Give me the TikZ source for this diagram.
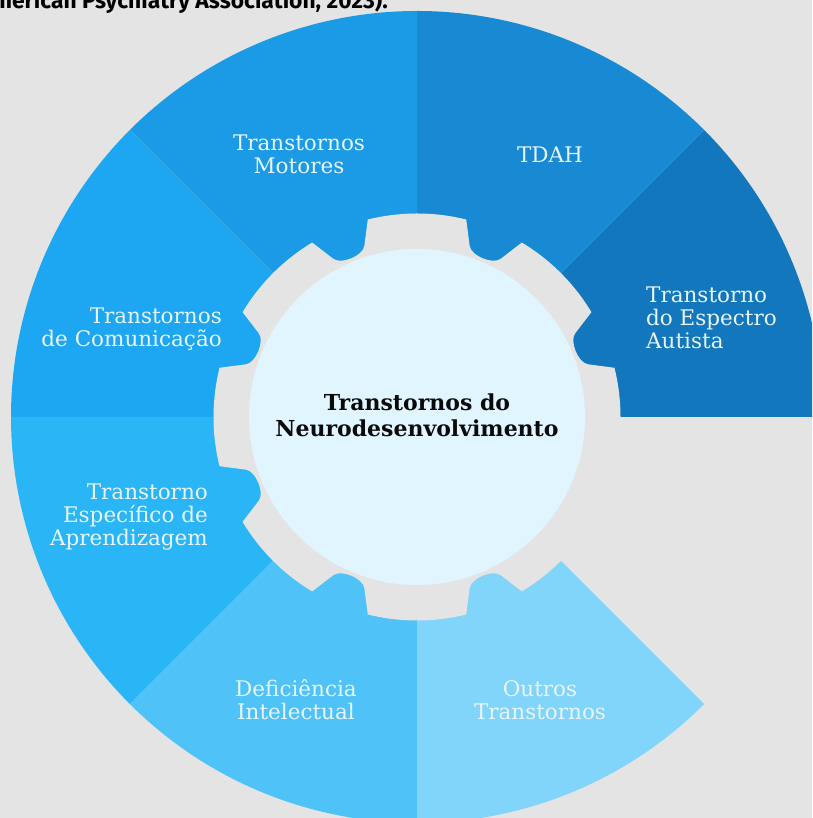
\documentclass[tikz,border=0pt]{standalone}
\usepackage{fontspec}
\setmainfont{DejaVu Serif}
\newfontfamily\topfont{Fira Sans}
\usetikzlibrary{calc}
\definecolor{bg}{HTML}{E4E4E4}
\definecolor{cTDAH}{HTML}{1889D3}
\definecolor{cTEA}{HTML}{1377BD}
\definecolor{cMot}{HTML}{1B9BE6}
\definecolor{cCom}{HTML}{1DA7F2}
\definecolor{cApr}{HTML}{2AB6F6}
\definecolor{cDef}{HTML}{4FC2F7}
\definecolor{cOut}{HTML}{81D4FA}
\definecolor{hub}{HTML}{E1F5FE}
\definecolor{labeltext}{HTML}{E8F5FD}
\definecolor{titletext}{HTML}{0A0A0A}
\begin{document}
\begin{tikzpicture}[x=1pt,y=1pt,
  seclabel/.style={inner sep=0pt, text=labeltext, font=\fontsize{21.5}{23}\selectfont},
  hubtitle/.style={inner sep=0pt, text=titletext, align=center, font=\bfseries\fontsize{22}{26}\selectfont},
  srctext/.style={inner sep=0pt, text=black, font=\topfont\bfseries\fontsize{22.8}{27}\selectfont}
]
\useasboundingbox (0,0) rectangle (812,818);
\fill[bg] (0,0) rectangle (812,818);
\clip (0,0) rectangle (812,818);

\node[srctext, anchor=base east] (src) at (388,809) {(American Psychiatry Association, 2023).};

\begin{scope}[shift={(417,401)}]
  \fill[cTEA]  (0,0) -- (0:406)   arc[start angle=0,   end angle=45,  radius=406] -- cycle;
  \fill[cTDAH] (0,0) -- (45:406)  arc[start angle=45,  end angle=90,  radius=406] -- cycle;
  \fill[cMot]  (0,0) -- (90:406)  arc[start angle=90,  end angle=135, radius=406] -- cycle;
  \fill[cCom]  (0,0) -- (135:406) arc[start angle=135, end angle=180, radius=406] -- cycle;
  \fill[cApr]  (0,0) -- (180:406) arc[start angle=180, end angle=225, radius=406] -- cycle;
  \fill[cDef]  (0,0) -- (225:406) arc[start angle=225, end angle=270, radius=406] -- cycle;
  \fill[cOut]  (0,0) -- (270:406) arc[start angle=270, end angle=315, radius=406] -- cycle;
  % gear
  \fill[bg] ($(341.5:170)!10pt!(346:203.5)$)
    \foreach \a in {0,45,...,315}{
      -- (\a-14:203.5) arc[start angle=\a-14, end angle=\a+14, radius=203.5]
      -- ($(\a+18.5:170)!10pt!(\a+14:203.5)$)
      .. controls (\a+18.5:170) and (\a+26.5:170) .. ($(\a+26.5:170)!10pt!(\a+31:203.5)$)
    } -- cycle;
  \fill[hub] (0,0) circle[radius=168];
\end{scope}

\node[hubtitle] (title) at (417,402.6) {Transtornos do\\Neurodesenvolvimento};

\node[seclabel, align=center] (lMot) at (299,664) {Transtornos\\Motores};
\node[seclabel, anchor=base] (lTDAH) at (550,655.7) {TDAH};
\node[seclabel, align=left, anchor=west] (lTEA) at (646,499.7) {Transtorno\\do Espectro\\Autista};
\node[seclabel, align=right, anchor=east] (lCom) at (222,489.2) {Transtornos\\de Comunicação};
\node[seclabel, align=right, anchor=east] (lApr) at (208,301.3) {Transtorno\\Específico de\\Aprendizagem};
\node[seclabel, align=center] (lDef) at (296,118) {Deficiência\\Intelectual};
\node[seclabel, align=center] (lOut) at (540,117.5) {Outros\\Transtornos};
\end{tikzpicture}
\end{document}
